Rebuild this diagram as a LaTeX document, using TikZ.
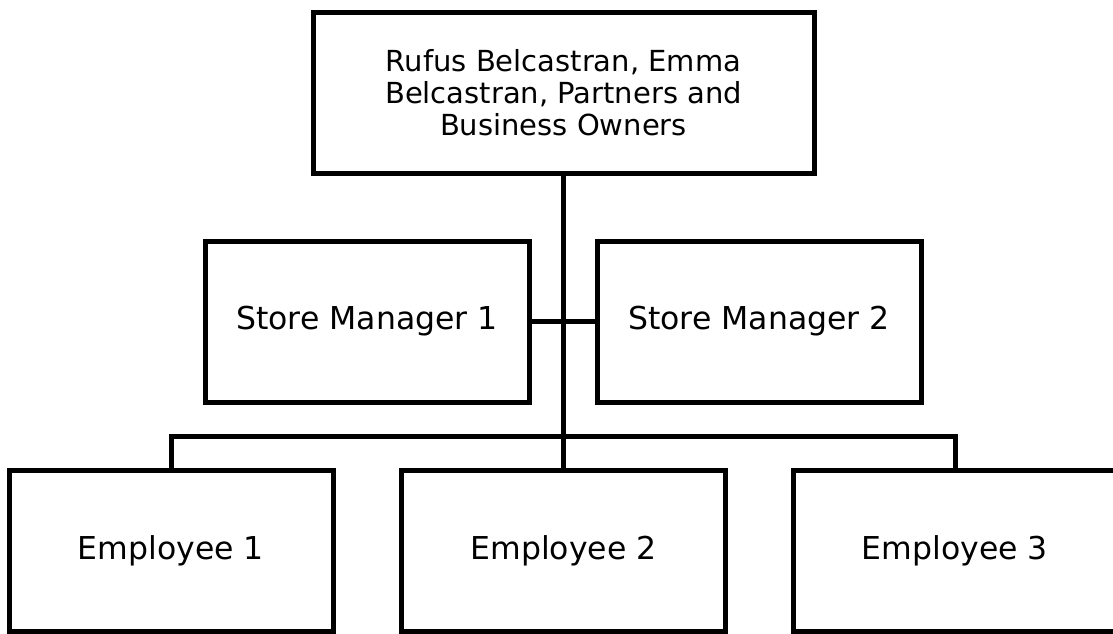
\documentclass[tikz,border=0pt]{standalone}
\usepackage{fontspec}
\setmainfont{DejaVu Sans}
\begin{document}
\begin{tikzpicture}[x=1pt,y=-1pt,
  box/.style={draw=black,line width=5pt,rectangle,inner sep=0pt,
    minimum width=324pt,minimum height=161pt,align=center,
    font=\fontsize{31.5}{32}\selectfont},
  link/.style={draw=black,line width=5pt}]
\useasboundingbox (0,0) rectangle (1113,633);
\node[box,minimum width=501pt,font=\fontsize{29}{32}\selectfont] (top) at (563.5,92.5) {Rufus Belcastran, Emma\\Belcastran, Partners and\\Business Owners};
\node[box] (m1) at (367,321.5) {Store Manager 1};
\node[box] (m2) at (759,321.5) {Store Manager 2};
\node[box] (e1) at (171,551) {Employee 1};
\node[box] (e2) at (563.5,551) {Employee 2};
\node[box] (e3) at (955,551) {Employee 3};
\coordinate (bus) at (563.5,436);
\draw[link] (top.south) -- (bus);
\draw[link] (bus) -- (e2.north);
\draw[link] (e1.north) -- (e1.north |- bus) -- (e3.north |- bus) -- (e3.north);
\draw[link] (m1.east) -- (m2.west);
\end{tikzpicture}
\end{document}
